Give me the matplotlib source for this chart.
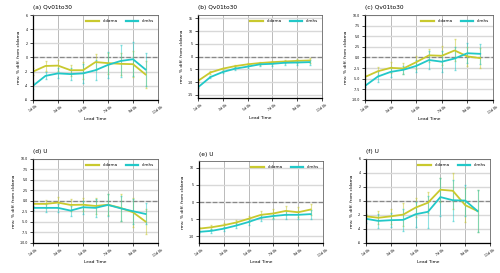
import matplotlib
matplotlib.use("Agg")
import matplotlib.pyplot as plt
import numpy as np

days = [1, 2, 3, 4, 5, 6, 7, 8, 9, 10]
xtick_vals = [1, 3, 5, 7, 9, 11]
xtick_labels = ["1d 0h", "3d 0h", "5d 0h", "7d 0h", "9d 0h", "11d 0h"]
series_names = ["cldama", "clmhs"]
titles = ["(a) Qv01to30", "(b) Qv01to30", "(c) Qv01to30", "(d) U", "(e) U", "(f) U"]

a_cldama = [-2.0, -1.2, -1.15, -1.8, -1.8, -0.65, -0.8, -0.9, -0.95, -2.4]
a_cldama_err = [0.5, 0.7, 0.8, 0.8, 1.2, 1.1, 1.5, 1.6, 1.8, 1.9]
a_clmhs = [-4.0, -2.6, -2.25, -2.35, -2.25, -1.8, -1.05, -0.5, -0.25, -1.7]
a_clmhs_err = [0.5, 0.5, 0.7, 0.9, 1.3, 1.4, 1.8, 2.2, 2.4, 2.4]

b_cldama = [-9.5, -6.2, -4.7, -3.7, -3.0, -2.5, -2.15, -1.9, -1.65, -1.5]
b_cldama_err = [0.4, 0.4, 0.4, 0.5, 0.5, 0.6, 0.6, 0.7, 0.7, 0.8]
b_clmhs = [-12.0, -8.0, -6.0, -4.7, -3.9, -3.0, -2.8, -2.4, -2.3, -2.15]
b_clmhs_err = [0.4, 0.4, 0.5, 0.5, 0.6, 0.7, 0.8, 0.8, 0.9, 1.0]

c_cldama = [-4.6, -3.25, -2.45, -2.6, -1.1, 0.5, 0.4, 1.65, 0.25, -0.15]
c_cldama_err = [0.4, 0.9, 1.3, 1.3, 1.5, 1.5, 2.2, 2.6, 2.2, 2.3]
c_clmhs = [-6.7, -4.5, -3.4, -2.9, -2.0, -0.6, -1.0, -0.25, 1.0, 0.85]
c_clmhs_err = [0.3, 1.2, 1.2, 1.0, 1.5, 2.2, 2.5, 2.6, 2.3, 2.3]

d_cldama = [-0.7, -0.7, -0.4, -0.95, -0.9, -1.2, -0.9, -1.65, -2.7, -4.9]
d_cldama_err = [0.8, 1.0, 1.4, 1.5, 1.5, 1.8, 2.5, 3.2, 3.5, 3.0]
d_clmhs = [-1.65, -1.65, -1.65, -2.3, -1.5, -1.65, -0.95, -1.75, -2.45, -3.1]
d_clmhs_err = [0.5, 0.9, 1.0, 1.2, 1.6, 2.2, 2.6, 3.0, 3.0, 2.5]

e_cldama = [-7.8, -7.4, -6.8, -6.0, -4.9, -3.75, -3.35, -2.6, -3.0, -2.2]
e_cldama_err = [0.5, 0.6, 0.7, 0.8, 0.9, 1.0, 1.2, 1.3, 1.4, 1.5]
e_clmhs = [-8.75, -8.45, -7.8, -6.9, -5.85, -4.6, -4.1, -3.75, -3.75, -3.55]
e_clmhs_err = [0.4, 0.5, 0.6, 0.7, 0.8, 0.9, 1.0, 1.1, 1.2, 1.3]

f_cldama = [-2.2, -2.4, -2.2, -1.95, -0.95, -0.25, 1.6, 1.45, -0.6, -1.45]
f_cldama_err = [0.3, 0.9, 1.1, 1.6, 1.4, 1.5, 1.7, 2.6, 2.4, 3.0]
f_clmhs = [-2.55, -2.85, -2.75, -2.7, -1.9, -1.55, 0.55, 0.1, 0.05, -1.45]
f_clmhs_err = [0.6, 1.0, 1.0, 1.6, 1.8, 2.3, 2.7, 2.9, 2.2, 3.0]

panels = [
    (a_cldama, a_cldama_err, a_clmhs, a_clmhs_err, (-6, 6), [-6, -4, -2, 0, 2, 4, 6], "%d"),
    (b_cldama, b_cldama_err, b_clmhs, b_clmhs_err, (-16.3, 16.3), [-15, -10, -5, 0, 5, 10, 15], "%d"),
    (c_cldama, c_cldama_err, c_clmhs, c_clmhs_err, (-10, 10), [-10, -7.5, -5, -2.5, 0, 2.5, 5, 7.5, 10], "%.1f"),
    (d_cldama, d_cldama_err, d_clmhs, d_clmhs_err, (-10, 10), [-10, -7.5, -5, -2.5, 0, 2.5, 5, 7.5, 10], "%.1f"),
    (e_cldama, e_cldama_err, e_clmhs, e_clmhs_err, (-12, 12), [-10, -5, 0, 5, 10], "%d"),
    (f_cldama, f_cldama_err, f_clmhs, f_clmhs_err, (-6, 6), [-6, -4, -2, 0, 2, 4, 6], "%d"),
]

positions = [
    (0.066, 0.634, 0.250, 0.311),
    (0.396, 0.640, 0.248, 0.305),
    (0.730, 0.634, 0.256, 0.311),
    (0.066, 0.110, 0.250, 0.308),
    (0.398, 0.110, 0.248, 0.300),
    (0.732, 0.110, 0.248, 0.308),
]

col1 = "#c9c92e"
col2 = "#22c8c8"

fig = plt.figure(figsize=(5.0, 2.73), dpi=100)
for i, (p, pos) in enumerate(zip(panels, positions)):
    y1, e1, y2, e2, ylim, yt, fmt = p
    ax = fig.add_axes(pos)
    ax.set_xlim(1, 11)
    ax.set_ylim(*ylim)
    ax.set_xticks(xtick_vals)
    ax.set_xticklabels(xtick_labels, rotation=35, fontsize=2.3)
    ax.set_yticks(yt)
    ax.set_yticklabels([fmt % v for v in yt], fontsize=2.3)
    ax.grid(axis="x", color="#b0b0b0", lw=0.6)
    ax.grid(axis="y", color="#d8d8d8", lw=1.0)
    ax.set_axisbelow(True)
    ax.axhline(0, color="#888888", ls="--", lw=0.9, zorder=1)
    ax.errorbar(days, y1, yerr=e1, fmt="none", ecolor=col1, alpha=0.5, elinewidth=0.8, capsize=1)
    ax.errorbar(days, y2, yerr=e2, fmt="none", ecolor=col2, alpha=0.5, elinewidth=0.8, capsize=1)
    ax.plot(days, y1, color=col1, lw=1.3, label=series_names[0])
    ax.plot(days, y2, color=col2, lw=1.3, label=series_names[1])
    for s in ["left", "bottom"]:
        ax.spines[s].set_color("black")
        ax.spines[s].set_linewidth(0.9)
    for s in ["top", "right"]:
        ax.spines[s].set_color("#666666")
        ax.spines[s].set_linewidth(0.6)
    ax.tick_params(length=2, width=0.5, pad=1.5)
    ax.set_xlabel("Lead Time", fontsize=3.2, labelpad=2)
    ax.set_ylabel("rms: % diff. from cldama", fontsize=3.2, labelpad=3)
    ax.set_title(titles[i], fontsize=4.2, loc="left", pad=4)
    leg = ax.legend(loc="upper right", ncol=2, frameon=False, fontsize=3, handlelength=3,
                    columnspacing=2, borderaxespad=0.6)
    for h in leg.get_lines():
        h.set_linewidth(1.6)

fig.savefig("out.png", dpi=100)
